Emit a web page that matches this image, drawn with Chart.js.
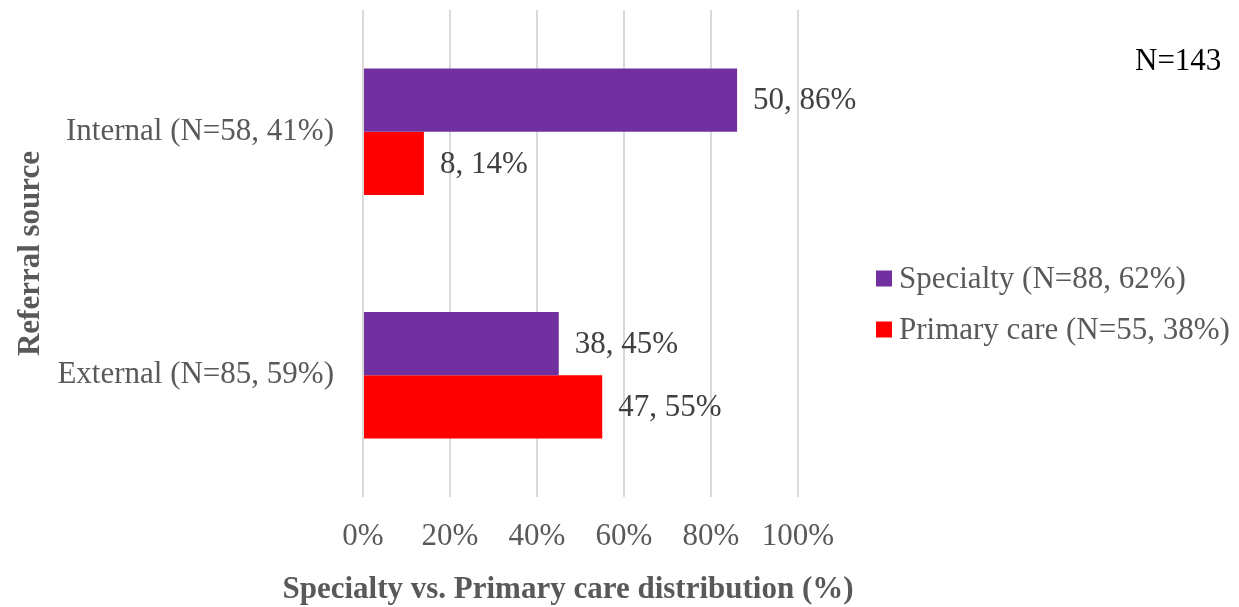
<!DOCTYPE html>
<html>
<head>
<meta charset="utf-8">
<script src="https://cdn.jsdelivr.net/npm/chart.js@4/dist/chart.umd.min.js"></script>
<style>
  html, body { margin: 0; padding: 0; background: #ffffff; }
  #wrap { width: 1239px; height: 607px; }
</style>
</head>
<body>
<div id="wrap"><canvas id="chart" width="1239" height="607"></canvas></div>
<script>
// Referral sources (y categories)
const categories = ['Internal (N=58, 41%)', 'External (N=85, 59%)'];

// Series names
const seriesNames = ['Specialty (N=88, 62%)', 'Primary care (N=55, 38%)'];

// Patient counts per referral source
const specialtyCounts = [50, 38];
const primaryCounts = [8, 47];

// Share within each referral source (%)
const specialtyPct = [86, 45];
const primaryPct = [14, 55];

// Axis ticks
const xTicks = [0, 20, 40, 60, 80, 100];

const xTitle = 'Specialty vs. Primary care distribution (%)';
const yTitle = 'Referral source';
const totalLabel = 'N=143';

const FONT = "'Liberation Serif', 'Times New Roman', serif";
const FS = 31;
const GRAY = '#595959';
const colors = ['#7030A0', '#FF0000'];
const counts = [specialtyCounts, primaryCounts];
const pcts = [specialtyPct, primaryPct];

// Value labels at the end of each bar: "count, percent%"
const valueLabels = {
  id: 'valueLabels',
  afterDatasetsDraw(chart) {
    const ctx = chart.ctx;
    ctx.save();
    ctx.font = FS + 'px ' + FONT;
    ctx.fillStyle = '#404040';
    ctx.textAlign = 'left';
    ctx.textBaseline = 'middle';
    chart.data.datasets.forEach((ds, di) => {
      chart.getDatasetMeta(di).data.forEach((bar, i) => {
        const txt = counts[di][i] + ', ' + pcts[di][i] + '%';
        ctx.fillText(txt, bar.x + 16, bar.y + 1);
      });
    });
    ctx.restore();
  }
};

// Legend on the right, the overall total and the x-axis title
const sideLegend = {
  id: 'sideLegend',
  afterDraw(chart) {
    const ctx = chart.ctx;
    ctx.save();
    ctx.font = FS + 'px ' + FONT;
    ctx.textBaseline = 'middle';
    ctx.textAlign = 'left';
    const rows = [278.5, 329.5];
    chart.data.datasets.forEach((ds, di) => {
      ctx.fillStyle = ds.backgroundColor;
      ctx.fillRect(876, rows[di] - 8, 16, 16);
      ctx.fillStyle = GRAY;
      ctx.fillText(ds.label, 899, rows[di] + 1);
    });
    ctx.fillStyle = '#000000';
    ctx.fillText(totalLabel, 1135, 62);

    ctx.font = 'bold ' + FS + 'px ' + FONT;
    ctx.fillStyle = GRAY;
    ctx.textAlign = 'center';
    ctx.fillText(xTitle, 568, 590);
    ctx.restore();
  }
};

new Chart(document.getElementById('chart'), {
  type: 'bar',
  data: {
    labels: categories,
    datasets: [
      { label: seriesNames[0], data: specialtyPct, backgroundColor: colors[0] },
      { label: seriesNames[1], data: primaryPct, backgroundColor: colors[1] }
    ]
  },
  options: {
    indexAxis: 'y',
    responsive: false,
    animation: false,
    devicePixelRatio: 1,
    layout: { padding: { top: 10, right: 441, bottom: 0, left: 0 } },
    datasets: { bar: { categoryPercentage: 0.52, barPercentage: 1.0 } },
    plugins: {
      legend: { display: false },
      tooltip: { enabled: false }
    },
    scales: {
      x: {
        min: 0,
        max: 100,
        afterBuildTicks(scale) { scale.ticks = xTicks.map(v => ({ value: v })); },
        afterFit(scale) {
          scale.height = 110;
          scale.paddingLeft = 0;
          scale.paddingRight = 0;
        },
        grid: { color: '#d9d9d9', lineWidth: 2, drawTicks: false },
        border: { display: false },
        ticks: {
          padding: 21,
          color: GRAY,
          font: { family: FONT, size: FS },
          callback: v => v + '%'
        }
      },
      y: {
        afterFit(scale) {
          scale.width = 363;
          scale.paddingTop = 0;
          scale.paddingBottom = 0;
        },
        grid: { display: false, drawTicks: false },
        border: { display: false },
        ticks: {
          padding: 29,
          color: GRAY,
          font: { family: FONT, size: FS }
        },
        title: {
          display: true,
          text: yTitle,
          color: GRAY,
          font: { family: FONT, size: FS, weight: 'bold' },
          padding: { top: 12, bottom: 12 }
        }
      }
    }
  },
  plugins: [valueLabels, sideLegend]
});
</script>
</body>
</html>
